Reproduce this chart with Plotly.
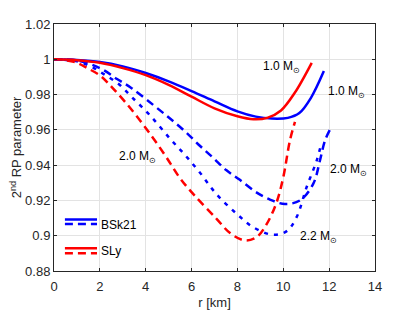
import plotly.graph_objects as go

# BSk21, 1.0 Msun (solid blue)
r_bsk_10 = [0, 1, 2, 3, 4, 5, 6, 7, 8, 8.8, 9.5, 10.2, 10.7, 11.2, 11.77]
v_bsk_10 = [1.0, 0.9996, 0.9985, 0.996, 0.9922, 0.9875, 0.982, 0.9762, 0.9705, 0.9675, 0.9664, 0.9668, 0.9695, 0.978, 0.9933]

# SLy, 1.0 Msun (solid red)
r_sly_10 = [0, 1, 2, 3, 4, 5, 6, 7, 8, 8.7, 9.3, 9.9, 10.5, 11.24]
v_sly_10 = [1.0, 0.9995, 0.998, 0.995, 0.991, 0.9855, 0.9788, 0.9722, 0.9677, 0.966, 0.9668, 0.971, 0.981, 0.998]

# BSk21, 2.0 Msun (dashed blue)
r_bsk_20 = [0, 1, 2, 2.75, 3.4, 4.34, 5.06, 5.71, 6.36, 6.94, 7.51, 8.09, 8.8, 9.42, 10.07, 10.73, 11.31, 11.6, 11.82, 12.04]
v_bsk_20 = [1.0, 0.9993, 0.995, 0.9888, 0.9835, 0.974, 0.9664, 0.9592, 0.951, 0.9442, 0.9372, 0.9318, 0.9248, 0.9205, 0.918, 0.92, 0.9295, 0.9427, 0.954, 0.9602]

# BSk21, 2.2 Msun (dotted blue)
r_bsk_22 = [0, 1, 1.6, 2.17, 2.82, 3.4, 4.19, 5.06, 5.71, 6.36, 7.09, 7.97, 8.69, 9.56, 10.15, 10.58, 11.02, 11.46, 11.67]
v_bsk_22 = [1.0, 0.9988, 0.996, 0.9916, 0.986, 0.9785, 0.9682, 0.955, 0.9458, 0.9358, 0.9235, 0.9124, 0.9048, 0.9005, 0.9026, 0.9105, 0.9276, 0.9427, 0.953]

# SLy, 2.0 Msun (dashed red)
r_sly_20 = [0, 0.5, 1, 1.45, 2.02, 2.53, 3.11, 3.76, 4.34, 4.91, 5.49, 6.15, 7.09, 7.68, 8.33, 8.84, 9.28, 9.71, 10.0, 10.29, 10.51]
v_sly_20 = [1.0, 0.9995, 0.998, 0.995, 0.9907, 0.9841, 0.9757, 0.9652, 0.955, 0.9443, 0.9327, 0.9225, 0.9096, 0.9015, 0.8973, 0.8992, 0.9067, 0.919, 0.9332, 0.954, 0.9645]

x_ticks = [0, 2, 4, 6, 8, 10, 12, 14]
y_ticks = [0.88, 0.9, 0.92, 0.94, 0.96, 0.98, 1.0, 1.02]
y_ticktext = ["0.88", "0.9", "0.92", "0.94", "0.96", "0.98", "1", "1.02"]

BLUE = "#0000FF"
RED = "#FF0000"
DASH = "8px,5px"
DOT = "4px,6px"
LW = 2.5

fig = go.Figure()

def add(r, v, color, dash):
    fig.add_trace(go.Scatter(x=r, y=v, mode="lines",
                             line=dict(color=color, width=LW, dash=dash, shape="spline", smoothing=1.0),
                             showlegend=False, hoverinfo="skip"))

add(r_bsk_20, v_bsk_20, BLUE, DASH)
add(r_bsk_22, v_bsk_22, BLUE, DOT)
add(r_sly_20, v_sly_20, RED, DASH)
add(r_bsk_10, v_bsk_10, BLUE, "solid")
add(r_sly_10, v_sly_10, RED, "solid")

FAMILY = "Liberation Sans, Arial, sans-serif"
font = dict(family=FAMILY, size=13, color="#262626")
tfont = dict(family=FAMILY, size=12, color="#000000")

annots = [
    dict(x=10.8, y=0.9956, text="1.0 M<sub>⊙</sub>", xanchor="right"),
    dict(x=11.85, y=0.9815, text="1.0 M<sub>⊙</sub>", xanchor="left"),
    dict(x=2.75, y=0.9446, text="2.0 M<sub>⊙</sub>", xanchor="left"),
    dict(x=11.95, y=0.937, text="2.0 M<sub>⊙</sub>", xanchor="left"),
    dict(x=10.65, y=0.8995, text="2.2 M<sub>⊙</sub>", xanchor="left"),
]
annotations = []
for a in annots:
    annotations.append(dict(xref="x", yref="y", showarrow=False, yanchor="middle", font=tfont, **a))

# custom legend (paper coordinates)
legend_items = [
    ("BSk21", BLUE, 0.209, 0.190, 0.186),
    ("SLy", RED, 0.092, 0.072, 0.082),
]
shapes = []
for name, color, ys, yd, yt in legend_items:
    shapes.append(dict(type="line", xref="paper", yref="paper", x0=0.034, x1=0.134, y0=ys, y1=ys,
                       line=dict(color=color, width=LW)))
    shapes.append(dict(type="line", xref="paper", yref="paper", x0=0.034, x1=0.134, y0=yd, y1=yd,
                       line=dict(color=color, width=LW, dash=DASH)))
    annotations.append(dict(xref="paper", yref="paper", x=0.140, y=yt, text=name, showarrow=False,
                            xanchor="left", yanchor="middle", font=tfont))

axis_common = dict(showgrid=True, gridcolor="#e3e3e3", gridwidth=1, zeroline=False,
                   showline=True, linecolor="#262626", linewidth=1, mirror="ticks",
                   ticks="inside", ticklen=3, tickcolor="#262626", tickfont=font,
                   automargin=False)

# page body has an 8px default margin, so the figure is sized to fit the window
fig.update_layout(
    width=407, height=304, autosize=False,
    margin=dict(l=46, r=40, t=16, b=41),
    paper_bgcolor="white", plot_bgcolor="white",
    font=font,
    xaxis=dict(range=[0, 14], tickvals=x_ticks, ticktext=[str(t) for t in x_ticks],
               ticklabelstandoff=3,
               title=dict(text="r [km]", font=font, standoff=5), **axis_common),
    yaxis=dict(range=[0.88, 1.02], tickvals=y_ticks, ticktext=y_ticktext,
               title=dict(text="2<sup>nd</sup> RP parameter", font=font, standoff=5), **axis_common),
    shapes=shapes,
    annotations=annotations,
)

fig.write_html("out.html")
